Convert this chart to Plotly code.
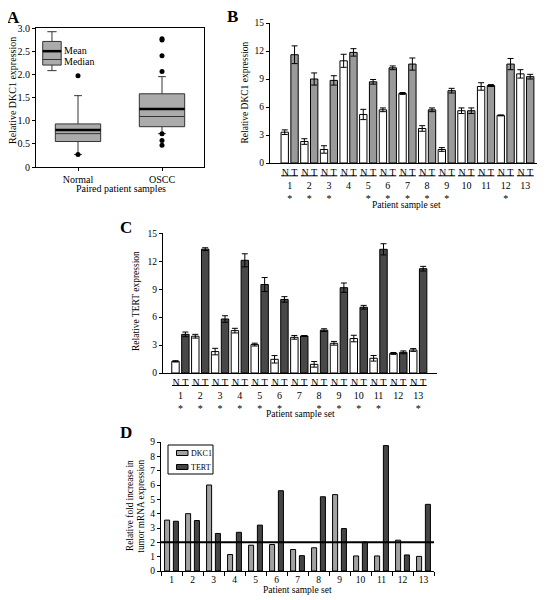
import plotly.graph_objects as go

W, H = 545, 600
# the page body adds an 8px margin around the plot; lay out in window pixels
OFF = 8
def px(x):
    return (x - OFF) / W
def py(y):
    return 1 - (y - OFF) / H

FONT = "Liberation Serif, Times New Roman, serif"

# ---------------- Panel A data ----------------
box_labels = ["Normal", "OSCC"]
box_q1 = [0.55, 0.87]
box_median = [0.72, 1.09]
box_q3 = [0.93, 1.58]
box_lower = [0.27, 0.72]
box_upper = [1.54, 1.95]
box_mean = [0.80, 1.25]
normal_outliers = [1.97, 0.27]
oscc_outliers = [2.77, 2.74, 2.40, 2.06, 0.72, 0.57, 0.47]
key_stats = dict(q1=2.20, median=2.32, q3=2.71, lower=2.08, upper=2.92, mean=2.50)

# ---------------- Panel B data (DKC1) ----------------
groups = list(range(1, 14))
dkc1_normal = [3.3, 2.3, 1.45, 10.95, 5.2, 5.7, 7.45, 3.7, 1.45, 5.6, 8.2, 5.1, 9.55]
dkc1_normal_err = [0.25, 0.3, 0.4, 0.7, 0.55, 0.2, 0.1, 0.3, 0.2, 0.3, 0.4, 0.05, 0.45]
dkc1_tumor = [11.6, 9.0, 8.85, 11.85, 8.7, 10.2, 10.6, 5.7, 7.75, 5.6, 8.3, 10.6, 9.25]
dkc1_tumor_err = [0.95, 0.65, 0.5, 0.4, 0.25, 0.2, 0.65, 0.2, 0.25, 0.3, 0.1, 0.6, 0.25]
dkc1_sig = [1, 2, 3, 5, 6, 7, 8, 9, 12]

# ---------------- Panel C data (TERT) ----------------
tert_normal = [1.25, 3.95, 2.3, 4.55, 3.05, 1.47, 3.83, 0.93, 3.19, 3.7, 1.58, 2.1, 2.47]
tert_normal_err = [0.07, 0.2, 0.35, 0.25, 0.15, 0.4, 0.2, 0.3, 0.2, 0.35, 0.3, 0.1, 0.15]
tert_tumor = [4.15, 13.3, 5.8, 12.1, 9.5, 7.9, 3.97, 4.6, 9.16, 7.06, 13.28, 2.22, 11.2]
tert_tumor_err = [0.25, 0.15, 0.35, 0.7, 0.75, 0.3, 0.05, 0.15, 0.5, 0.2, 0.6, 0.15, 0.25]
tert_sig = [1, 2, 3, 4, 5, 6, 8, 9, 10, 11, 13]

# ---------------- Panel D data ----------------
fold_labels = [str(g) for g in groups]
fold_series = ["DKC1", "TERT"]
fold_dkc1 = [3.55, 4.0, 6.0, 1.15, 1.8, 1.85, 1.5, 1.62, 5.33, 1.05, 1.05, 2.15, 1.02]
fold_tert = [3.47, 3.52, 2.62, 2.7, 3.2, 5.6, 1.07, 5.18, 2.96, 2.02, 8.75, 1.12, 4.65]
fold_threshold = 2
fold_colors = ["#a2a2a2", "#454545"]

fig = go.Figure()

# ---------- Panel A ----------
BOX_W = 0.54
fig.add_trace(go.Box(
    x=[0, 1], q1=box_q1, median=box_median, q3=box_q3,
    lowerfence=box_lower, upperfence=box_upper,
    width=BOX_W, whiskerwidth=0.17, fillcolor="#ababab",
    line=dict(color="#333333", width=1), boxpoints=False,
    xaxis="x", yaxis="y", showlegend=False, hoverinfo="skip"))
mx, my = [], []
for i, m in enumerate(box_mean):
    mx += [i - BOX_W / 2, i + BOX_W / 2, None]
    my += [m, m, None]
fig.add_trace(go.Scatter(x=mx, y=my, mode="lines", line=dict(color="black", width=2.5),
                         xaxis="x", yaxis="y", showlegend=False, hoverinfo="skip"))
ox = [0] * len(normal_outliers) + [1] * len(oscc_outliers)
oy = normal_outliers + oscc_outliers
fig.add_trace(go.Scatter(x=ox, y=oy, mode="markers", marker=dict(color="black", size=5),
                         xaxis="x", yaxis="y", showlegend=False, hoverinfo="skip"))
# key box
KEY_X, KEY_W = -0.31, 0.22
fig.add_trace(go.Box(
    x=[KEY_X], q1=[key_stats["q1"]], median=[key_stats["median"]], q3=[key_stats["q3"]],
    lowerfence=[key_stats["lower"]], upperfence=[key_stats["upper"]],
    width=KEY_W, whiskerwidth=0.5, fillcolor="#ababab",
    line=dict(color="#333333", width=1), boxpoints=False,
    xaxis="x", yaxis="y", showlegend=False, hoverinfo="skip"))
fig.add_trace(go.Scatter(x=[KEY_X - KEY_W / 2, KEY_X + KEY_W / 2], y=[key_stats["mean"]] * 2,
                         mode="lines", line=dict(color="black", width=2.5),
                         xaxis="x", yaxis="y", showlegend=False, hoverinfo="skip"))

# ---------- Panels B & C ----------
BAR_W = 0.375
def add_pair(normal, nerr, tumor, terr, tcolor, xa, ya):
    fig.add_trace(go.Bar(x=[g - 0.25 for g in groups], y=normal, width=BAR_W,
                         marker=dict(color="white", line=dict(color="black", width=1)),
                         error_y=dict(type="data", array=nerr, color="black", thickness=1, width=3),
                         xaxis=xa, yaxis=ya, showlegend=False, hoverinfo="skip"))
    fig.add_trace(go.Bar(x=[g + 0.25 for g in groups], y=tumor, width=BAR_W,
                         marker=dict(color=tcolor, line=dict(color="black", width=1)),
                         error_y=dict(type="data", array=terr, color="black", thickness=1, width=3),
                         xaxis=xa, yaxis=ya, showlegend=False, hoverinfo="skip"))

add_pair(dkc1_normal, dkc1_normal_err, dkc1_tumor, dkc1_tumor_err, "#9a9a9a", "x2", "y2")
add_pair(tert_normal, tert_normal_err, tert_tumor, tert_tumor_err, "#484848", "x3", "y3")

# ---------- Panel D ----------
fig.add_trace(go.Bar(x=fold_labels, y=fold_dkc1, name=fold_series[0], offset=-0.33, width=0.24,
                     marker=dict(color=fold_colors[0], line=dict(color="black", width=1)),
                     xaxis="x4", yaxis="y4", hoverinfo="skip", showlegend=False))
fig.add_trace(go.Bar(x=fold_labels, y=fold_tert, name=fold_series[1], offset=0.09, width=0.24,
                     marker=dict(color=fold_colors[1], line=dict(color="black", width=1)),
                     xaxis="x4", yaxis="y4", hoverinfo="skip", showlegend=False))

def ticktext(sig):
    return [f"N T<br>{g}" + ("<br>*" if g in sig else "") for g in groups]

def axis(size=9.5, ticklen=3, **kw):
    d = dict(showgrid=False, zeroline=False, showline=True, linecolor="black",
             linewidth=1, tickcolor="black", ticklen=ticklen, tickwidth=1,
             tickfont=dict(family=FONT, size=size, color="black"))
    d.update(kw)
    return d

fig.update_layout(
    width=W, height=H, margin=dict(l=0, r=0, t=0, b=0, autoexpand=False),
    paper_bgcolor="white", plot_bgcolor="white",
    barmode="overlay", showlegend=False,
    font=dict(family=FONT, color="black"),
    xaxis=axis(size=10, domain=[px(36), px(204)], anchor="y", range=[-0.5, 1.5],
               tickvals=[0, 1], ticktext=box_labels, ticks="outside", mirror=True),
    yaxis=axis(size=10, domain=[py(167), py(28)], anchor="x", range=[0, 3],
               tickvals=[0, 0.5, 1, 1.5, 2, 2.5, 3],
               ticktext=["0", "0.5", "1.0", "1.5", "2.0", "2.5", "3.0"],
               ticks="outside", mirror=True),
    xaxis2=axis(size=10, domain=[px(270), px(541)], anchor="y2", range=[0, 13.8],
                tickvals=groups, ticktext=ticktext(dkc1_sig), ticks=""),
    yaxis2=axis(domain=[py(163), py(23)], anchor="x2", range=[0, 15],
                tickvals=[0, 3, 6, 9, 12, 15], ticks="outside"),
    xaxis3=axis(size=10, domain=[px(163), px(437)], anchor="y3", range=[0.12, 13.95],
                tickvals=groups, ticktext=ticktext(tert_sig), ticks=""),
    yaxis3=axis(domain=[py(373), py(233.3)], anchor="x3", range=[0, 15],
                tickvals=[0, 3, 6, 9, 12, 15], ticks="outside"),
    xaxis4=axis(ticklen=4, domain=[px(161), px(434)], anchor="y4", type="category",
                tickson="boundaries", ticks="outside"),
    yaxis4=axis(domain=[py(571), py(442)], anchor="x4", range=[0, 9],
                tickvals=list(range(10)), ticks="outside"),
)

shapes = []
for g in groups:
    shapes.append(dict(type="line", xref="x2", yref="paper", x0=g - 0.43, x1=g + 0.43,
                       y0=py(175.8), y1=py(175.8), line=dict(color="black", width=1)))
    shapes.append(dict(type="line", xref="x3", yref="paper", x0=g - 0.43, x1=g + 0.43,
                       y0=py(385.5), y1=py(385.5), line=dict(color="black", width=1)))
shapes.append(dict(type="line", xref="x4 domain", yref="y4", x0=0, x1=1,
                   y0=fold_threshold, y1=fold_threshold, line=dict(color="black", width=2)))
# key for panel D
shapes.append(dict(type="rect", xref="paper", yref="paper", x0=px(168), x1=px(213),
                   y0=py(474), y1=py(445), line=dict(color="black", width=1),
                   fillcolor="white"))
for k, yc in enumerate([453, 467]):
    shapes.append(dict(type="rect", xref="paper", yref="paper", x0=px(176.5), x1=px(188),
                       y0=py(yc + 2.5), y1=py(yc - 2.5), line=dict(color="black", width=1),
                       fillcolor=fold_colors[k]))
fig.update_layout(shapes=shapes)

def ann(text, x, y, size, angle=0, bold=False, xanchor="center"):
    fig.add_annotation(text=f"<b>{text}</b>" if bold else text, x=px(x), y=py(y),
                       xref="paper", yref="paper", showarrow=False, textangle=angle,
                       xanchor=xanchor, yanchor="middle", borderpad=0,
                       font=dict(family=FONT, size=size, color="black"))

# panel letters
ann("A", 13, 17.5, 17, bold=True)
ann("B", 232, 16.5, 17, bold=True)
ann("C", 126, 227, 17, bold=True)
ann("D", 126, 432, 17, bold=True)
# axis titles
ann("Relative DKC1 expression", 13, 91, 10, angle=-90)
ann("Paired patient samples", 121, 188, 10)
ann("Relative DKC1 expression", 244, 92.5, 9.5, angle=-90)
ann("Patient sample set", 406, 204.5, 9.5)
ann("Relative TERT expression", 136, 301, 9.5, angle=-90)
ann("Patient sample set", 300, 413.5, 9.5)
ann("Relative fold increase in", 130, 506, 9.3, angle=-90)
ann("tumor mRNA expression", 140.7, 506, 9.3, angle=-90)
ann("Patient sample set", 297, 590, 9.5)
# key labels (panel A)
ann("Mean", 63, 51, 10, xanchor="left")
ann("Median", 63, 62, 10, xanchor="left")
# key labels (panel D)
ann(fold_series[0], 189.5, 453.5, 8, xanchor="left")
ann(fold_series[1], 189.5, 467.5, 8, xanchor="left")

fig.write_html("out.html")
